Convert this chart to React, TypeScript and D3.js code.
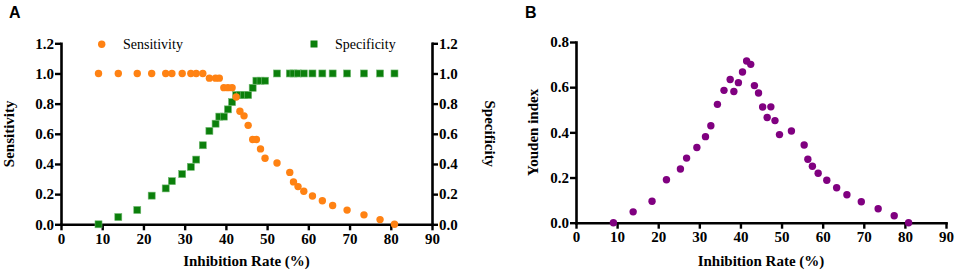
import React, { useEffect, useRef } from "react";
import * as d3 from "d3";

const inhibitionRate = [9.1, 13.9, 18.5, 22.0, 25.4, 26.9, 29.4, 31.5, 32.8, 34.4, 36.0, 37.5, 38.4, 39.5, 40.5, 41.5, 42.5, 43.4, 44.4, 45.4, 46.5, 47.4, 48.4, 49.5, 52.4, 55.5, 56.4, 57.5, 58.9, 61.0, 63.4, 65.9, 69.4, 73.5, 77.4, 80.9];
const sensitivity = [1, 1, 1, 1, 1, 1, 1, 1, 1, 1, 0.969, 0.969, 0.969, 0.906, 0.906, 0.906, 0.844, 0.75, 0.719, 0.656, 0.5625, 0.5625, 0.5, 0.4375, 0.406, 0.344, 0.281, 0.25, 0.219, 0.1875, 0.156, 0.125, 0.094, 0.0625, 0.031, 0];
const specificity = [0, 0.048, 0.095, 0.19, 0.238, 0.286, 0.333, 0.381, 0.429, 0.524, 0.619, 0.667, 0.714, 0.714, 0.762, 0.81, 0.857, 0.857, 0.857, 0.857, 0.905, 0.952, 0.952, 0.952, 1, 1, 1, 1, 1, 1, 1, 1, 1, 1, 1, 1];
const youden = [0, 0.048, 0.095, 0.19, 0.238, 0.286, 0.333, 0.381, 0.429, 0.524, 0.586, 0.634, 0.581, 0.62, 0.667, 0.716, 0.701, 0.607, 0.574, 0.512, 0.466, 0.513, 0.452, 0.39, 0.406, 0.344, 0.281, 0.25, 0.219, 0.188, 0.155, 0.124, 0.093, 0.062, 0.031, 0];

const xTicks = [0, 10, 20, 30, 40, 50, 60, 70, 80, 90];
const yTicksA = [0, 0.2, 0.4, 0.6, 0.8, 1.0, 1.2];
const yTicksB = [0, 0.2, 0.4, 0.6, 0.8];

const ORANGE = "#FF8213";
const GREEN = "#0B7F0B";
const PURPLE = "#800080";
const SERIF = "'Liberation Serif', 'Times New Roman', serif";
const SANS = "'Liberation Sans', Arial, sans-serif";

export default function App() {
  const ref = useRef<SVGSVGElement>(null);

  useEffect(() => {
    const svg = d3.select(ref.current);
    svg.selectAll("*").remove();
    const fmt = d3.format(".1f");

    const styleAxis = (g: any) => {
      g.select(".domain").attr("stroke", "#000").attr("stroke-width", 2.6).attr("stroke-linecap", "square");
      g.selectAll(".tick line").attr("stroke", "#000").attr("stroke-width", 2.4);
      g.selectAll(".tick text")
        .attr("font-family", SERIF)
        .attr("font-weight", "bold")
        .attr("font-size", 15)
        .attr("fill", "#000");
    };

    // ---------- Panel A ----------
    const xA = d3.scaleLinear().domain([0, 90]).range([61, 432]);
    const yA = d3.scaleLinear().domain([0, 1.2]).range([224.3, 43.3]);

    const gA = svg.append("g");
    gA.append("g")
      .attr("transform", `translate(0,${yA(0)})`)
      .call(d3.axisBottom(xA).tickValues(xTicks).tickSize(6).tickSizeOuter(0).tickPadding(3))
      .call(styleAxis);
    gA.append("g")
      .attr("transform", `translate(${xA(0)},0)`)
      .call(d3.axisLeft(yA).tickValues(yTicksA).tickFormat(fmt as any).tickSize(6).tickSizeOuter(0).tickPadding(1))
      .call(styleAxis);
    gA.append("g")
      .attr("transform", `translate(${xA(90)},0)`)
      .call(d3.axisRight(yA).tickValues(yTicksA).tickFormat(fmt as any).tickSize(6).tickSizeOuter(0).tickPadding(1))
      .call(styleAxis);

    const sq = 7;
    gA.append("g")
      .selectAll("rect")
      .data(inhibitionRate.map((x, i) => [x, specificity[i]]))
      .join("rect")
      .attr("x", (d) => xA(d[0]) - sq / 2)
      .attr("y", (d) => yA(d[1]) - sq / 2)
      .attr("width", sq)
      .attr("height", sq)
      .attr("fill", GREEN)
      .attr("stroke", "#6fb86f")
      .attr("stroke-width", 0.6);

    gA.append("g")
      .selectAll("circle")
      .data(inhibitionRate.map((x, i) => [x, sensitivity[i]]))
      .join("circle")
      .attr("cx", (d) => xA(d[0]))
      .attr("cy", (d) => yA(d[1]))
      .attr("r", 3.7)
      .attr("fill", ORANGE);

    // legend
    gA.append("circle").attr("cx", 101.7).attr("cy", 44.3).attr("r", 3.7).attr("fill", ORANGE);
    gA.append("text").attr("x", 123).attr("y", 49).attr("font-family", SERIF).attr("font-size", 14).text("Sensitivity");
    gA.append("rect").attr("x", 314 - sq / 2).attr("y", 44 - sq / 2).attr("width", sq).attr("height", sq).attr("fill", GREEN);
    gA.append("text").attr("x", 335).attr("y", 49).attr("font-family", SERIF).attr("font-size", 14).text("Specificity");

    gA.append("text")
      .attr("x", (xA(0) + xA(90)) / 2)
      .attr("y", 266)
      .attr("text-anchor", "middle")
      .attr("font-family", SERIF)
      .attr("font-weight", "bold")
      .attr("font-size", 15)
      .text("Inhibition Rate (%)");
    gA.append("text")
      .attr("transform", `translate(14,${(yA(0) + yA(1.2)) / 2}) rotate(-90)`)
      .attr("text-anchor", "middle")
      .attr("font-family", SERIF)
      .attr("font-weight", "bold")
      .attr("font-size", 15)
      .text("Sensitivity");
    gA.append("text")
      .attr("transform", `translate(485,${(yA(0) + yA(1.2)) / 2}) rotate(90)`)
      .attr("text-anchor", "middle")
      .attr("font-family", SERIF)
      .attr("font-weight", "bold")
      .attr("font-size", 15)
      .text("Specificity");
    gA.append("text").attr("x", 9).attr("y", 18).attr("font-family", SANS).attr("font-weight", "bold").attr("font-size", 16).text("A");

    // ---------- Panel B ----------
    const xB = d3.scaleLinear().domain([0, 90]).range([576, 946]);
    const yB = d3.scaleLinear().domain([0, 0.8]).range([222.7, 42]);
    const gB = svg.append("g");
    gB.append("g")
      .attr("transform", `translate(0,${yB(0)})`)
      .call(d3.axisBottom(xB).tickValues(xTicks).tickSize(6).tickSizeOuter(0).tickPadding(3))
      .call(styleAxis);
    gB.append("g")
      .attr("transform", `translate(${xB(0)},0)`)
      .call(d3.axisLeft(yB).tickValues(yTicksB).tickFormat(fmt as any).tickSize(6).tickSizeOuter(0).tickPadding(1))
      .call(styleAxis);

    gB.append("g")
      .selectAll("circle")
      .data(inhibitionRate.map((x, i) => [x, youden[i]]))
      .join("circle")
      .attr("cx", (d) => xB(d[0]))
      .attr("cy", (d) => yB(d[1]))
      .attr("r", 3.7)
      .attr("fill", PURPLE);

    gB.append("text")
      .attr("x", (xB(0) + xB(90)) / 2)
      .attr("y", 266)
      .attr("text-anchor", "middle")
      .attr("font-family", SERIF)
      .attr("font-weight", "bold")
      .attr("font-size", 15)
      .text("Inhibition Rate (%)");
    gB.append("text")
      .attr("transform", `translate(538,${(yB(0) + yB(0.8)) / 2}) rotate(-90)`)
      .attr("text-anchor", "middle")
      .attr("font-family", SERIF)
      .attr("font-weight", "bold")
      .attr("font-size", 15)
      .text("Youden index");
    gB.append("text").attr("x", 525).attr("y", 18).attr("font-family", SANS).attr("font-weight", "bold").attr("font-size", 16).text("B");
  }, []);

  return (
    <svg
      ref={ref}
      width={957}
      height={271}
      style={{ position: "absolute", left: 0, top: 0, display: "block", background: "#fff" }}
    />
  );
}
